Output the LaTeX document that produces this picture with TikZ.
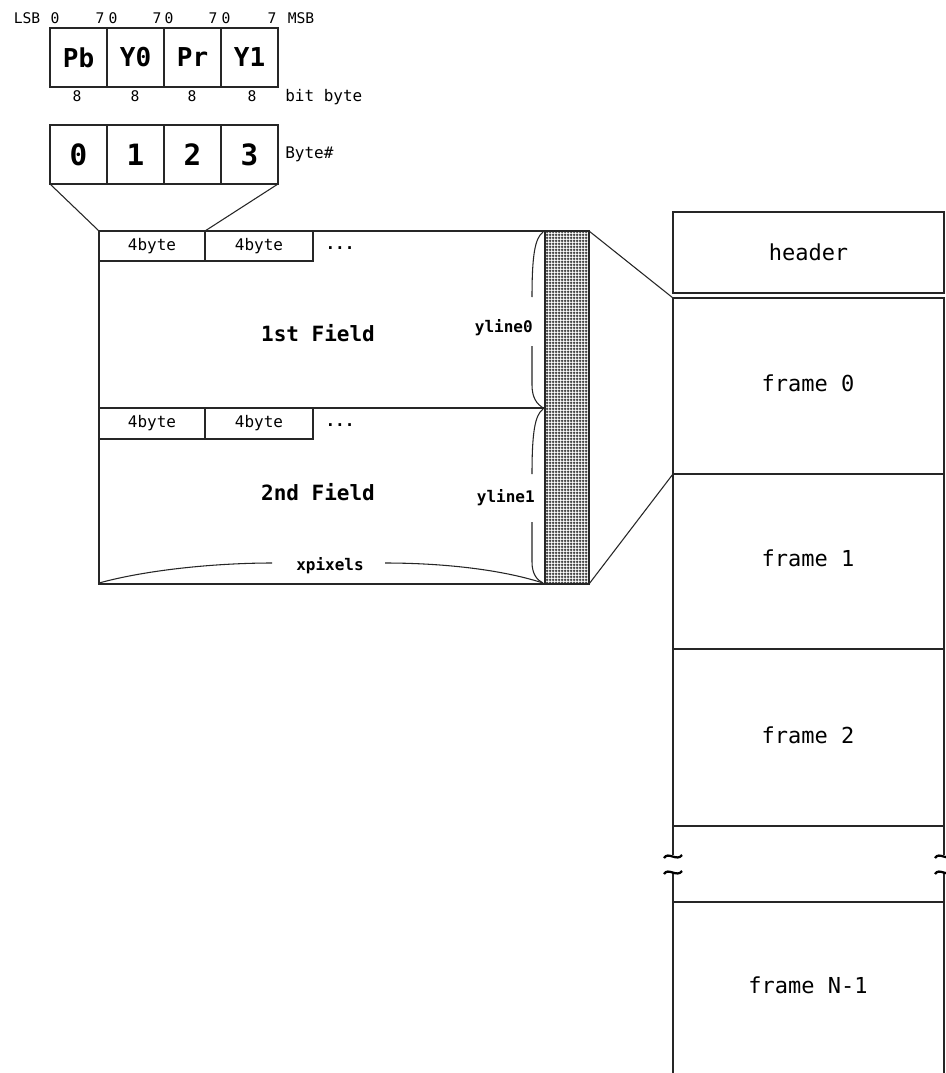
\documentclass[tikz,border=0pt]{standalone}
\usepackage{fontspec}
\newfontfamily\mono{DejaVu Sans Mono}
\usetikzlibrary{patterns}
\pgfdeclarepatternformonly{finegrid}{\pgfpointorigin}{\pgfqpoint{2.25pt}{2.25pt}}{\pgfqpoint{2.25pt}{2.25pt}}{%
  \pgfsetlinewidth{0.95pt}%
  \pgfpathmoveto{\pgfqpoint{0pt}{1.125pt}}\pgfpathlineto{\pgfqpoint{2.25pt}{1.125pt}}%
  \pgfpathmoveto{\pgfqpoint{1.125pt}{0pt}}\pgfpathlineto{\pgfqpoint{1.125pt}{2.25pt}}%
  \pgfusepath{stroke}}
\tikzset{
  ln/.style={draw=black!85, line width=0.8pt},
  box/.style 2 args={minimum width={#1*0.75pt}, minimum height={#2*0.75pt}},
  cell/.style={ln, rectangle, inner sep=0pt, outer sep=0pt},
  tiny/.style={inner sep=0pt, font=\mono\fontsize{11}{12}\selectfont},
  small/.style={inner sep=0pt, font=\mono\fontsize{12}{13}\selectfont},
  smallbold/.style={inner sep=0pt, font=\mono\bfseries\fontsize{12}{13}\selectfont},
  big/.style={font=\mono\bfseries\fontsize{19.5}{21}\selectfont},
  digit/.style={font=\mono\bfseries\fontsize{22}{24}\selectfont},
  fieldtxt/.style={inner sep=0pt, font=\mono\bfseries\fontsize{15.75}{17}\selectfont},
  frametxt/.style={inner sep=0pt, font=\mono\fontsize{16.5}{18}\selectfont},
  tilde/.style={draw=black, line width=1.7pt},
}
\begin{document}
\begin{tikzpicture}[x=0.75pt,y=-0.75pt]
\useasboundingbox (0,0) rectangle (945,1073);
\fill[white] (0,0) rectangle (945,1073);

% bit positions
\node[tiny] (lsb) at (27,18) {LSB};
\node[tiny] (p0) at (55,18) {0};
\node[tiny] (p1) at (100,18) {7};
\node[tiny] (p2) at (113,18) {0};
\node[tiny] (p3) at (157,18) {7};
\node[tiny] (p4) at (169,18) {0};
\node[tiny] (p5) at (213,18) {7};
\node[tiny] (p6) at (226,18) {0};
\node[tiny] (p7) at (272,18) {7};
\node[tiny] (msb) at (301,18) {MSB};

% component cells
\node[cell, box={57}{59}, big] (pb) at (78.5,57.5) {Pb};
\node[cell, box={57}{59}, big] (y0) at (135.5,57.5) {Y0};
\node[cell, box={57}{59}, big] (pr) at (192.5,57.5) {Pr};
\node[cell, box={57}{59}, big] (y1) at (249.5,57.5) {Y1};

\node[tiny] (w0) at (77,96) {8};
\node[tiny] (w1) at (135,96) {8};
\node[tiny] (w2) at (192,96) {8};
\node[tiny] (w3) at (252,96) {8};
\node[small, anchor=west] (bitbyte) at (285,97) {bit byte};

% byte cells
\node[cell, box={57}{59}, digit] (by0) at (78.5,154.5) {0};
\node[cell, box={57}{59}, digit] (by1) at (135.5,154.5) {1};
\node[cell, box={57}{59}, digit] (by2) at (192.5,154.5) {2};
\node[cell, box={57}{59}, digit] (by3) at (249.5,154.5) {3};
\node[small, anchor=west] (bytenum) at (285,154) {Byte\#};

% fields
\node[cell, box={446}{177}] (field1) at (322,319.5) {};
\node[cell, box={446}{176}] (field2) at (322,496) {};
\node[cell, box={106}{30}, small] (c11) at (152,246) {4byte};
\node[cell, box={108}{30}, small] (c12) at (259,246) {4byte};
\node[cell, box={106}{31}, small] (c21) at (152,423.5) {4byte};
\node[cell, box={108}{31}, small] (c22) at (259,423.5) {4byte};
\node[smallbold] (dots1) at (340,248) {...};
\node[smallbold] (dots2) at (340,425) {...};
\node[fieldtxt] (f1txt) at (318,333) {1st Field};
\node[fieldtxt] (f2txt) at (318,492) {2nd Field};

% hatched column
\node[cell, box={44}{353}, pattern=finegrid, pattern color=black!80] (hatch) at (567,407.5) {};

% braces for ylines
\draw[ln] (543,232) .. controls (535,238) and (532,255) .. (532,297);
\draw[ln] (532,346) -- (532,385) .. controls (532,398) and (537,404) .. (543,408);
\node[smallbold, anchor=east] (yl0) at (533,328) {yline0};
\draw[ln] (543,409) .. controls (535,415) and (532,432) .. (532,474);
\draw[ln] (532,522) -- (532,562) .. controls (532,574) and (537,580) .. (543,583);
\node[smallbold, anchor=east] (yl1) at (535,498) {yline1};

% xpixels
\draw[ln] (99,583) .. controls (150,569) and (220,563) .. (272,563);
\draw[ln] (385,563) .. controls (440,563) and (500,569) .. (543,583);
\node[smallbold] (xp) at (330,566) {xpixels};

% file layout
\node[cell, box={271}{81}, frametxt] (header) at (808.5,252.5) {header};
\node[cell, box={271}{176}] (frame0) at (808.5,386) {};
\node[cell, box={271}{175}] (frame1) at (808.5,561.5) {};
\node[cell, box={271}{177}] (frame2) at (808.5,737.5) {};
\node[frametxt] (f0txt) at (808,383) {frame 0};
\node[frametxt] (f1t) at (808,558) {frame 1};
\node[frametxt] (f2t) at (808,735) {frame 2};
\node[frametxt] (fntxt) at (808,985) {frame N-1};

\coordinate (lbrk1) at (673,855);
\coordinate (lbrk2) at (673,872);
\coordinate (lbot) at (673,1073);
\coordinate (rbrk1) at (944,855);
\coordinate (rbrk2) at (944,872);
\coordinate (rbot) at (944,1073);
\coordinate (ntopl) at (673,902);
\coordinate (ntopr) at (944,902);
\draw[ln] (frame2.south west) -- (lbrk1);
\draw[ln] (lbrk2) -- (lbot);
\draw[ln] (frame2.south east) -- (rbrk1);
\draw[ln] (rbrk2) -- (rbot);
\draw[ln] (ntopl) -- (ntopr);
\draw[tilde] (664,858) .. controls (668,851) and (677,862) .. (682,855);
\draw[tilde] (664,874) .. controls (668,867) and (677,878) .. (682,871);
\draw[tilde] (935,858) .. controls (939,851) and (948,862) .. (953,855);
\draw[tilde] (935,874) .. controls (939,867) and (948,878) .. (953,871);

% zoom connectors
\draw[ln] (by0.south west) -- (c11.north west);
\draw[ln] (by3.south east) -- (c11.north east);
\draw[ln] (hatch.north east) -- (frame0.north west);
\draw[ln] (hatch.south east) -- (frame0.south west);
\end{tikzpicture}
\end{document}
